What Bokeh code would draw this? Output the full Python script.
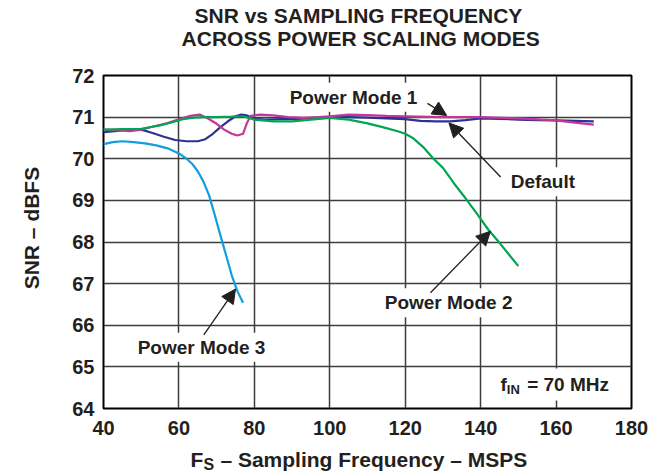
from bokeh.plotting import figure
from bokeh.models import (Range1d, FixedTicker, Label, Arrow, NormalHead, BoxAnnotation,
                          LinearAxis)
from bokeh.embed import file_html
from bokeh.resources import INLINE

# ---------------- data ----------------
default_fs = [40, 43, 46, 50, 53, 56, 59, 62, 65, 67, 69, 71, 73, 75, 76.5, 78, 80, 83, 87, 92, 96,
              100, 105, 110, 115, 120, 124, 128, 132, 136, 140, 145, 150, 155, 160, 165, 170]
default_snr = [70.64, 70.66, 70.69, 70.70, 70.62, 70.53, 70.45, 70.42, 70.42, 70.47, 70.60, 70.76, 70.90,
               71.02, 71.06, 71.04, 70.96, 70.94, 70.95, 70.96, 70.98, 71.00, 71.00, 70.99, 70.97, 70.95,
               70.91, 70.90, 70.90, 70.93, 70.97, 70.96, 70.94, 70.93, 70.92, 70.91, 70.90]

pm1_fs = [40, 44, 47, 50, 53, 57, 60, 63, 65.5, 67.5, 70, 72, 74, 75.5, 77, 78, 79, 81.5, 85, 89, 93, 97,
          100, 105, 110, 115, 120, 130, 140, 150, 160, 165, 170]
pm1_snr = [70.70, 70.68, 70.66, 70.70, 70.77, 70.86, 70.95, 71.03, 71.06, 70.98, 70.84, 70.70, 70.60,
           70.56, 70.60, 70.85, 71.03, 71.06, 71.04, 71.00, 70.98, 71.00, 71.02, 71.06, 71.05, 71.03,
           71.02, 71.00, 71.00, 70.97, 70.92, 70.87, 70.82]

pm2_fs = [40, 45, 50, 55, 58, 61, 64, 67, 70, 74, 77, 80, 85, 90, 95, 100, 105, 110, 114, 118, 120, 122,
          125, 127.5, 130, 133, 136, 139, 142, 145, 147.5, 150]
pm2_snr = [70.70, 70.71, 70.72, 70.80, 70.87, 70.95, 70.99, 71.00, 71.00, 71.01, 71.02, 70.94, 70.90,
           70.90, 70.94, 70.98, 70.94, 70.85, 70.76, 70.66, 70.60, 70.50, 70.26, 70.00, 69.78, 69.40,
           69.05, 68.68, 68.30, 67.98, 67.70, 67.42]

pm3_fs = [40, 42.5, 45, 48, 51, 54, 57, 59, 60.5, 62, 63.5, 65, 66.5, 68, 69.5, 71, 72.5, 74, 75.5, 77]
pm3_snr = [70.35, 70.40, 70.42, 70.40, 70.37, 70.32, 70.25, 70.17, 70.10, 70.00, 69.88, 69.70, 69.45,
           69.12, 68.65, 68.16, 67.68, 67.20, 66.82, 66.54]

x_ticks = [40, 60, 80, 100, 120, 140, 160, 180]
y_ticks = [64, 65, 66, 67, 68, 69, 70, 71, 72]

title_lines = ["SNR vs SAMPLING FREQUENCY", "ACROSS POWER SCALING MODES"]
x_title = ["F", "S", "– Sampling Frequency – MSPS"]
y_title = "SNR – dBFS"

FONT = "Liberation Sans"
INK = "#231f20"

p = figure(width=655, height=475, x_range=Range1d(40, 180), y_range=Range1d(64, 72),
           output_backend="svg", toolbar_location=None,
           min_border_left=103, min_border_right=24, min_border_top=75, min_border_bottom=66)
try:
    p.title = None
except Exception:
    p.title.text = ""
p.background_fill_color = "white"
p.border_fill_color = "white"
p.outline_line_color = "black"
p.outline_line_width = 2


def style_axis(ax, size="20px", standoff=7):
    ax.axis_line_color = None
    ax.major_tick_line_color = None
    ax.minor_tick_line_color = None
    ax.major_tick_out = 0
    ax.major_tick_in = 0
    ax.minor_tick_out = 0
    ax.minor_tick_in = 0
    ax.major_label_text_font = FONT
    ax.major_label_text_font_size = size
    ax.major_label_text_font_style = "bold"
    ax.major_label_text_color = INK
    ax.major_label_standoff = int(standoff)


style_axis(p.xaxis[0], standoff=12)
style_axis(p.yaxis[0], standoff=9)
p.xaxis.ticker = FixedTicker(ticks=x_ticks)
p.yaxis.ticker = FixedTicker(ticks=y_ticks)

p.xgrid.ticker = FixedTicker(ticks=x_ticks)
p.ygrid.ticker = FixedTicker(ticks=y_ticks)
for g in (p.xgrid, p.ygrid):
    g.grid_line_color = "#3d3d3d"
    g.grid_line_width = 1.5


# ---------------- titles (single-tick guide labels placed in the side panels) ----------------
def text_axis(side, pos_text, size, standoff, orientation="horizontal"):
    ticks = list(pos_text.keys())
    ax = LinearAxis(ticker=FixedTicker(ticks=ticks), major_label_overrides=dict(pos_text),
                    major_label_orientation=orientation)
    style_axis(ax, size=size, standoff=standoff)
    p.add_layout(ax, side)
    return ax


# x-axis title: "F" + subscript "S" + rest  (subscript panel first, main text pulled back up)
text_axis("below", {67.9: x_title[1]}, "16px", 18)
text_axis("below", {64.77: x_title[0], 111.68: x_title[2]}, "21px", -28)
# y-axis title
text_axis("left", {68.335: y_title}, "21px", 26, orientation="vertical")
# chart title, two lines (first added sits nearest the plot)
text_axis("above", {108.2: title_lines[1]}, "21px", 26)
text_axis("above", {107.6: title_lines[0]}, "21px", -3)

# ---------------- curves ----------------
p.line(default_fs, default_snr, line_color="#2e3192", line_width=2.2)
p.line(pm1_fs, pm1_snr, line_color="#c2379a", line_width=2.2)
p.line(pm2_fs, pm2_snr, line_color="#00a651", line_width=2.2)
p.line(pm3_fs, pm3_snr, line_color="#0f9fde", line_width=2.2)


# ---------------- annotations ----------------
def lab(x, y, text, size="19px", align="center", bg=None):
    kw = dict(x=x, y=y, text=text, text_font=FONT, text_font_size=size, text_font_style="bold",
              text_color=INK, text_align=align, text_baseline="alphabetic", level="underlay")
    if bg:
        kw.update(background_fill_color=bg, padding=4)
    p.add_layout(Label(**kw))


def arrow(x0, y0, x1, y1):
    p.add_layout(Arrow(end=NormalHead(size=14, fill_color=INK, line_color=INK, line_width=1),
                       x_start=x0, y_start=y0, x_end=x1, y_end=y1,
                       line_color=INK, line_width=1.3))


# white patch behind the test-condition text
p.add_layout(BoxAnnotation(left=144.0, right=177.0, bottom=64.19, top=64.96, level="underlay",
                           fill_color="white", fill_alpha=1.0, line_color=None))

lab(106.3, 71.48, "Power Mode 1", bg="white")
lab(156.5, 69.45, "Default", bg="white")
lab(131.5, 66.54, "Power Mode 2", bg="white")
lab(66.0, 65.47, "Power Mode 3", bg="white")

lab(145.28, 64.58, "f", align="left")
lab(146.95, 64.45, "IN", size="13px", align="left")
lab(152.33, 64.58, "= 70 MHz", align="left")

arrow(125.9, 71.33, 131.0, 71.04)
arrow(145.3, 69.56, 131.6, 70.86)
arrow(126.7, 66.78, 142.6, 68.26)
arrow(66.6, 65.77, 75.0, 66.87)

open("out.html", "w").write(file_html(p, INLINE))
